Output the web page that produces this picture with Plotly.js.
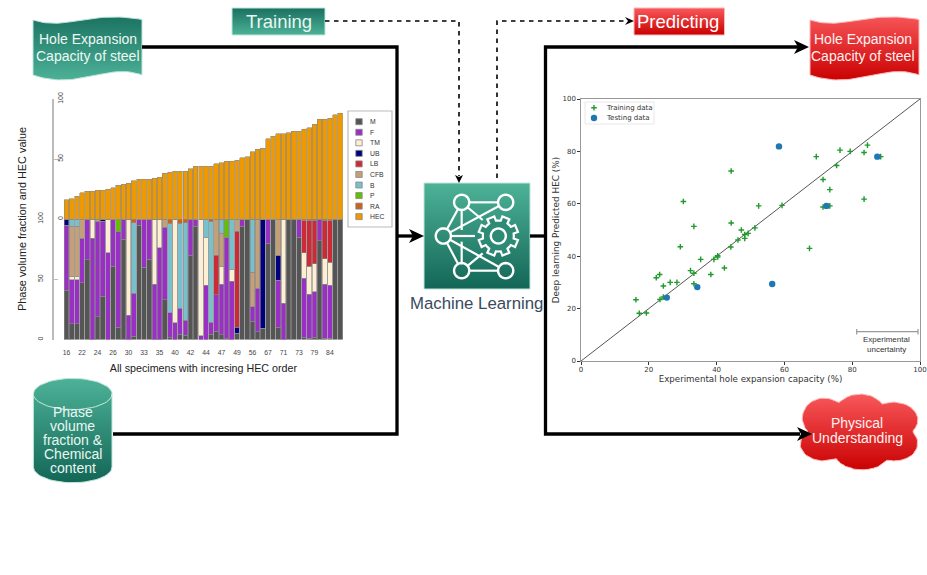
<!DOCTYPE html>
<html><head><meta charset="utf-8">
<script src="https://cdn.plot.ly/plotly-3.0.1.min.js"></script>
<style>html,body{margin:0;padding:0;background:#fff}</style>
</head><body><div id="chart" style="width:927px;height:575px"></div>
<script>
var specimenLabels=["16","22","24","26","30","33","35","40","42","44","47","49","56","67","71","73","79","84"];
var hecValues=[16,17,19,22,23,23,24,24,25,26,28,29,30,32,33,33,33,34,35,38,39,40,40,40,42,44,44,44,44,46,47,48,48,49,51,52,56,58,59,67,69,71,71,72,73,73,75,76,79,83,83,84,87,88];
var phaseM=[41,13,13,47,66,0,19,36,0,61,10,83,0,2.5,95,60,66.5,0,0,33,2,0,4.5,3.5,70,94,0,0,4.5,7,4,0.5,0,5,94,100,15,6.5,9.5,80,100,10,0,100,100,85,2,1,2,82,1,1,100,100];
var phaseF=[54,36.5,36.5,37,34,84,79,62,72,39,80,17,20,36,5,40,33.5,46,76,60,20,14,21.5,12.5,30,6,3,45,10,30,42,84.5,48.5,0,6,0,12,36,0,20,0,39,30,0,0,15,49,36.5,37.5,18,45,44,0,0];
var phaseTM=[0,2.5,2.5,0,0,16,0,0,28,0,0,0,80,0,0,0,0,54,24,0,0,86,0,0,0,0,97,39.5,0,0,14.5,0,9.5,0,0,0,0,0,0,0,0,0,70,0,0,0,21,23.5,23.5,0,21,19,0,0];
var phaseUB=[5,0,0,0,0,0,0,2,0,0,0,0,0,0,0,0,0,0,0,0,0,0,0,0,0,0,0,0,0,0,0,0,0,5,0,0,0,0,90.5,0,0,21,0,0,0,0,0,0,0,0,0,0,0,0];
var phaseLB=[0,0,0,0,0,0,0,0,0,0,0,0,0,0,0,0,0,0,0,0,0,0,0,0,0,0,0,0,0,33,0,0,0,80,0,0,0,0,0,0,0,0,0,0,0,0,27,38,36,0,32,35,0,0];
var phaseCFB=[0,42,42,16,0,0,2,0,0,0,0,0,0,0,0,0,0,0,0,7,0,0,0,0,0,0,0,0,0,30,27.5,0,0,10,0,0,29,57.5,0,0,0,30,0,0,0,0,0,0,0,0,0,0,0,0];
var phaseB=[0,6,6,0,0,0,0,0,0,0,0,0,0,58.5,0,0,0,0,0,0,74.5,0,70.5,81,0,0,0,15.5,83.5,0,12,0,42,0,0,0,44,0,0,0,0,0,0,0,0,0,0,0,0,0,0,0,0,0];
var phaseP=[0,0,0,0,0,0,0,0,0,0,10,0,0,0,0,0,0,0,0,0,0,0,0,0,0,0,0,0,0,0,0,15,0,0,0,0,0,0,0,0,0,0,0,0,0,0,0,0,0,0,0,0,0,0];
var phaseRA=[0,0,0,0,0,0,0,0,0,0,0,0,0,3,0,0,0,0,0,0,3.5,0,3.5,3,0,0,0,0,2,0,0,0,0,0,0,0,0,0,0,0,0,0,0,0,0,0,1,1,1,0,1,1,0,0];
var phaseNames=["M","F","TM","UB","LB","CFB","B","P","RA","HEC"];
var phaseColors=["#555555","#9a2fc5","#fdeed4","#00007f","#cc2a36","#c4a078","#78c0cb","#63c000","#c8641c","#ee9900"];
var phaseSeries=[phaseM,phaseF,phaseTM,phaseUB,phaseLB,phaseCFB,phaseB,phaseP,phaseRA];
var trainX=[30.2,33.3,44.3,44.3,46.3,47.3,48.3,48.3,49.3,51.3,52.4,59.3,69.4,71.4,71.4,73.4,73.4,75.4,76.4,79.4,83.5,83.5,84.5,88.4,67.4,16.2,17.2,19.3,22.2,23.2,24.3,26.3,28.3,23.3,24.3,29.3,32.3,33.3,33.3,38.3,35.3,39.2,40.3,40.3,42.3,44.2];
var trainY=[60.9,51.4,72.5,52.7,46.2,50,48.3,46.8,48.7,50.8,59.2,59.4,78,69.3,58.8,59.2,65.4,74.6,80.5,80,79.6,61.8,82.4,78,43,23.4,18.2,18.3,31.8,33,28.6,30,30,23.5,24.4,43.6,34.5,33.5,29.5,33,38.8,38.8,40.2,39.7,35.5,43.5];
var testX=[25.3,34.3,58.4,72.4,87.4,56.4];
var testY=[24.2,28.2,81.9,59.2,78,29.4];
var parityLine=[0,100];
var W=927,H=575,SANS="Liberation Sans, Arial, sans-serif",DJ="DejaVu Sans, sans-serif";
var GREEN_D="#19705f",GREEN_L="#4db298",RED_L="#f9595c",RED_D="#c90000";

function grad(pts,top,bot,y0,y1,edge){return {x:pts.map(function(p){return p[0]}),y:pts.map(function(p){return p[1]}),xaxis:'x',yaxis:'y',mode:'lines',fill:'toself',
  fillgradient:{type:'vertical',start:y0,stop:y1,colorscale:[[0,top],[1,bot]]},line:{color:edge||'rgba(255,255,255,0)',width:1},hoverinfo:'skip',showlegend:false};}
function bez(a,b,c,d,n){var o=[];for(var i=0;i<=n;i++){var t=i/n,u=1-t;o.push([u*u*u*a[0]+3*u*u*t*b[0]+3*u*t*t*c[0]+t*t*t*d[0],u*u*u*a[1]+3*u*u*t*b[1]+3*u*t*t*c[1]+t*t*t*d[1]]);}return o;}
function wave(x0,x1,y){var w=x1-x0;
  var top=bez([x0,y],[x0+w*.32,y+11],[x0+w*.5,y-10],[x1,y-.5],40);
  var yb=y+55;var bot=bez([x1,yb],[x0+w*.68,yb-13],[x0+w*.42,yb+16],[x0,yb],40);
  var p=top.concat(bot);p.push(p[0]);return p;}
function rect(x0,y0,x1,y1){return [[x0,y0],[x1,y0],[x1,y1],[x0,y1],[x0,y0]];}
function ell(cx,cy,rx,ry,a0,a1,n){var o=[];for(var i=0;i<=n;i++){var t=a0+(a1-a0)*i/n;o.push([cx+rx*Math.cos(t),cy+ry*Math.sin(t)]);}return o;}
function cloud(){var lobes=[[824,418,22,20],[860,414,26,20],[894,420,24,18],[824,444,24,17],[862,452,28,18],[895,443,23,18]];
  var cx=859,cy=432,o=[];for(var i=0;i<=180;i++){var t=i/180*2*Math.PI,c=Math.cos(t),s=Math.sin(t),rm=0;
    lobes.forEach(function(l){for(var r=0;r<90;r+=.5){var dx=(cx+r*c-l[0])/l[2],dy=(cy+r*s-l[1])/l[3];if(dx*dx+dy*dy<=1&&r>rm)rm=r;}});
    o.push([cx+rm*c,cy+rm*s]);}return o;}

var traces=[];
traces.push(grad(wave(33,142,20),GREEN_D,GREEN_L,13,81,'#bfe5da'));
traces.push(grad(wave(810,919,20),RED_L,RED_D,13,81,'#ffb9b9'));
traces.push(grad(rect(232,8,325,35),GREEN_D,GREEN_L,8,35,'#bfe5da'));
traces.push(grad(rect(634,8,724.5,35),RED_L,RED_D,8,35,'#ffb9b9'));
traces.push(grad(rect(424,183,530,289),GREEN_L,'#136656',183,289,'#bfe5da'));
var cyl=ell(72.7,394,39.3,15.6,Math.PI,2*Math.PI,30).concat(ell(72.7,467,39.3,15.7,0,Math.PI,30));cyl.push(cyl[0]);
traces.push(grad(cyl,GREEN_L,'#136656',378,483,'#bfe5da'));
traces.push(grad(cloud(),RED_L,RED_D,393,471,'#ffb9b9'));
var rim=ell(72.7,394,39.3,15.6,0,Math.PI,30);
traces.push({x:rim.map(function(p){return p[0]}),y:rim.map(function(p){return p[1]}),xaxis:'x',yaxis:'y',mode:'lines',line:{color:'#c8eadf',width:1},hoverinfo:'skip',showlegend:false});

var idx=hecValues.map(function(_,i){return i});
phaseSeries.forEach(function(s,k){traces.push({type:'bar',name:phaseNames[k],x:idx,y:s,xaxis:'x2',yaxis:'y2',marker:{color:phaseColors[k],line:{color:'#8a8a8a',width:.6}},hoverinfo:'skip',showlegend:false});});
traces.push({type:'bar',name:'HEC',x:idx,y:hecValues,xaxis:'x2',yaxis:'y3',marker:{color:phaseColors[9],line:{color:'#8a8a8a',width:.6}},hoverinfo:'skip',showlegend:false});
traces.push({x:parityLine,y:parityLine,xaxis:'x3',yaxis:'y4',mode:'lines',line:{color:'#555',width:1},hoverinfo:'skip',showlegend:false});
var plus={symbol:'cross-thin',size:4,line:{color:'#1f9a2c',width:1.4}};
var dot={symbol:'circle',size:6.4,color:'#1f77b4'};
traces.push({x:trainX,y:trainY,name:'Training data',xaxis:'x3',yaxis:'y4',mode:'markers',marker:plus,hoverinfo:'skip',showlegend:false});
traces.push({x:testX,y:testY,name:'Testing data',xaxis:'x3',yaxis:'y4',mode:'markers',marker:dot,hoverinfo:'skip',showlegend:false});
traces.push({x:[594],y:[107.7],xaxis:'x',yaxis:'y',mode:'markers',marker:plus,hoverinfo:'skip',showlegend:false});
traces.push({x:[594],y:[118],xaxis:'x',yaxis:'y',mode:'markers',marker:dot,hoverinfo:'skip',showlegend:false});

var shapes=[],ann=[];
function sp(d,o){o=o||{};shapes.push({type:'path',path:d,xref:'x',yref:'y',layer:'above',line:{color:o.c||'#000',width:o.w===undefined?3.3:o.w,dash:o.dash||'solid'},fillcolor:o.fill||'rgba(0,0,0,0)'});}
function pathOf(p,close){return 'M'+p.map(function(q){return q[0].toFixed(2)+','+q[1].toFixed(2)}).join(' L')+(close?' Z':'');}
function txt(x,y,t,size,color,family,extra){var a={x:x,y:y,xref:'x',yref:'y',text:t,showarrow:false,font:{size:size,color:color,family:family||SANS},xanchor:'center',yanchor:'middle',borderpad:0};for(var k in (extra||{}))a[k]=extra[k];ann.push(a);}
sp(pathOf([[142,47],[397,47],[397,434],[113,434]]));
sp(pathOf([[397,236],[416,236]]));
sp(pathOf([[530,236],[545.5,236]]));
sp(pathOf([[800,47],[545.5,47],[545.5,434],[800,434]]));
function head(tx,ty,dx,dy,len,hw,notch){var px=-dy,py=dx;sp(pathOf([[tx,ty],[tx-dx*len+px*hw,ty-dy*len+py*hw],[tx-dx*notch,ty-dy*notch],[tx-dx*len-px*hw,ty-dy*len-py*hw]],true),{w:0,fill:'#000'});}
head(424,236,1,0,15,7,11);head(809,47,1,0,15,7,11);head(812,434,1,0,15,7,11);
sp(pathOf([[325,21],[459,21],[459,176]]),{w:1.6,dash:'4.5px,4.5px'});
sp(pathOf([[497,178],[497,21],[626,21]]),{w:1.6,dash:'4.5px,4.5px'});
head(459,183,0,1,8,4,6);head(634,21,1,0,9,4,6);
function z(a){return [400+a[0]/3,170+a[1]/3];}
var TL=z([185,97]),TR=z([317,97]),Lf=z([130,198]),BL=z([185,302]),BR=z([317,302]),nodeR=7.6;
[TL,TR,Lf,BL,BR].forEach(function(n){sp(pathOf(ell(n[0],n[1],nodeR,nodeR,0,2*Math.PI,32),true),{c:'#fff',w:2.4});});
function seg(a,b,ta,tb){var dx=b[0]-a[0],dy=b[1]-a[1],d=Math.hypot(dx,dy);dx/=d;dy/=d;var s=ta?nodeR:0,e=tb?nodeR:0;sp(pathOf([[a[0]+dx*s,a[1]+dy*s],[b[0]-dx*e,b[1]-dy*e]]),{c:'#fff',w:2.2});}
seg(TL,TR,1,1);seg(BL,BR,1,1);seg(Lf,TL,1,1);seg(Lf,BL,1,1);seg(Lf,TR,1,1);seg(Lf,BR,1,1);
seg(Lf,z([225,198]),1,0);seg(TL,z([185,180]),1,0);seg(z([185,215]),BL,0,1);seg(TL,z([248,150]),1,0);seg(BL,z([248,250]),1,0);
var gc=z([295,198]),gear=[];for(var i=0;i<8;i++){var a=i*Math.PI/4-Math.PI/8,s=Math.PI/4;[[15.5,-.5],[15.5,-.3],[20,-.24],[20,.24],[15.5,.3],[15.5,.5]].forEach(function(q){var t=a+q[1]*s;gear.push([gc[0]+q[0]*Math.cos(t),gc[1]+q[0]*Math.sin(t)]);});}
sp(pathOf(gear,true),{c:'#fff',w:2.2,fill:'#2d8a75'});
sp(pathOf(ell(gc[0],gc[1],7.5,7.5,0,2*Math.PI,32),true),{c:'#fff',w:2.4});
shapes.push({type:'rect',xref:'x',yref:'y',x0:348,x1:392,y0:111,y1:227,layer:'above',fillcolor:'#fff',line:{color:'#bbb',width:1.2}});
phaseNames.forEach(function(n,i){var yc=121.7+10.55*i;shapes.push({type:'rect',xref:'x',yref:'y',x0:355.8,x1:362.2,y0:yc-3,y1:yc+3,layer:'above',fillcolor:phaseColors[i],line:{color:'#888',width:.8}});txt(368.8,yc,n,6.8,'#333',SANS,{xanchor:'left'});});
shapes.push({type:'rect',xref:'x',yref:'y',x0:585,x1:654,y0:102,y1:124,layer:'below',fillcolor:'#fff',line:{color:'#e2e2e2',width:.8}});
txt(605,107.7,'Training data',7,'#333',DJ,{xanchor:'left'});txt(605,118,'Testing data',7,'#333',DJ,{xanchor:'left'});
sp('M856.7,331.7 L918,331.7 M856.7,329 L856.7,334.5 M918,329 L918,334.5',{c:'#999',w:1.2});
txt(886,339.5,'Experimental',8,'#333');txt(886,349.5,'uncertainty',8,'#333');
txt(88,39,'Hole Expansion',14,'#eef8f4');txt(88,56,'Capacity of steel',14,'#eef8f4');
txt(862.5,39,'Hole Expansion',14,'#fff1f1');txt(862.5,56,'Capacity of steel',14,'#fff1f1');
txt(278.5,21.5,'Training',18.5,'#e8f6f0');txt(678,21.5,'Predicting',18.5,'#fff');
txt(476,303,'Machine Learning',16.8,'#3a4a5e');
['Phase','volume','fraction &','Chemical','content'].forEach(function(t,i){txt(72.7,412.3+14*i,t,14,'#e9f6f1');});
txt(857,423,'Physical',14,'#fff1f1');txt(857,438,'Understanding',14,'#fff1f1');
txt(22,219,'Phase volume fraction and HEC value',10.9,'#222',SANS,{textangle:-90});

var tickIdx=specimenLabels.map(function(_,i){return i*3});
var layout={width:W,height:H,margin:{l:0,r:0,t:0,b:0},paper_bgcolor:'#fff',plot_bgcolor:'rgba(0,0,0,0)',barmode:'stack',bargap:.1,showlegend:false,
 xaxis:{domain:[0,1],range:[0,W],visible:false,fixedrange:true},
 yaxis:{domain:[0,1],range:[H,0],visible:false,fixedrange:true},
 xaxis2:{domain:[64/W,342.8/W],range:[-.5,53.5],anchor:'y2',tickmode:'array',tickvals:tickIdx,ticktext:specimenLabels,ticks:'',tickangle:0,tickfont:{size:6.8,color:'#444',family:SANS},ticklabelstandoff:8,showgrid:false,zeroline:false,showline:false,
   title:{text:'All specimens with incresing HEC order',font:{size:10.7,color:'#222',family:SANS},standoff:9}},
 yaxis2:{domain:[1-339.5/H,1-219/H],range:[0,100],anchor:'free',position:53/W,tickvals:[0,50,100],ticktext:['0','50','100'],ticks:'inside',ticklen:4,tickcolor:'#bbb',tickwidth:1.2,tickangle:-90,tickfont:{size:7,color:'#444',family:SANS},ticklabelstandoff:6,showgrid:false,zeroline:false,showline:true,linecolor:'#bbb',linewidth:1.5},
 yaxis3:{domain:[1-219/H,1-99/H],range:[0,100],anchor:'free',position:53/W,tickvals:[0,50,100],ticktext:['0','50','100'],ticks:'inside',ticklen:4,tickcolor:'#bbb',tickwidth:1.2,tickangle:-90,tickfont:{size:7,color:'#444',family:SANS},ticklabelstandoff:-14,showgrid:false,zeroline:false,showline:true,linecolor:'#bbb',linewidth:1.5},
 xaxis3:{domain:[581/W,920/W],range:[0,100],anchor:'y4',tickvals:[0,20,40,60,80,100],ticks:'outside',ticklen:2.5,tickcolor:'#333',tickwidth:.8,tickfont:{size:7,color:'#333',family:DJ},ticklabelstandoff:-1,showgrid:false,zeroline:false,showline:true,mirror:true,linecolor:'#999',linewidth:1.3,
   title:{text:'Experimental hole expansion capacity (%)',font:{size:8.7,color:'#333',family:DJ},standoff:0}},
 yaxis4:{domain:[1-361/H,1-99/H],range:[0,100],anchor:'x3',tickvals:[0,20,40,60,80,100],ticks:'outside',ticklen:2.5,tickcolor:'#333',tickwidth:.8,tickfont:{size:7,color:'#333',family:DJ},showgrid:false,zeroline:false,showline:true,mirror:true,linecolor:'#999',linewidth:1.3,
   title:{text:'Deep learning Predicted HEC (%)',font:{size:8.9,color:'#333',family:DJ},standoff:1}},
 shapes:shapes,annotations:ann};
Plotly.newPlot('chart',traces,layout,{displayModeBar:false,responsive:false});
</script></body></html>
